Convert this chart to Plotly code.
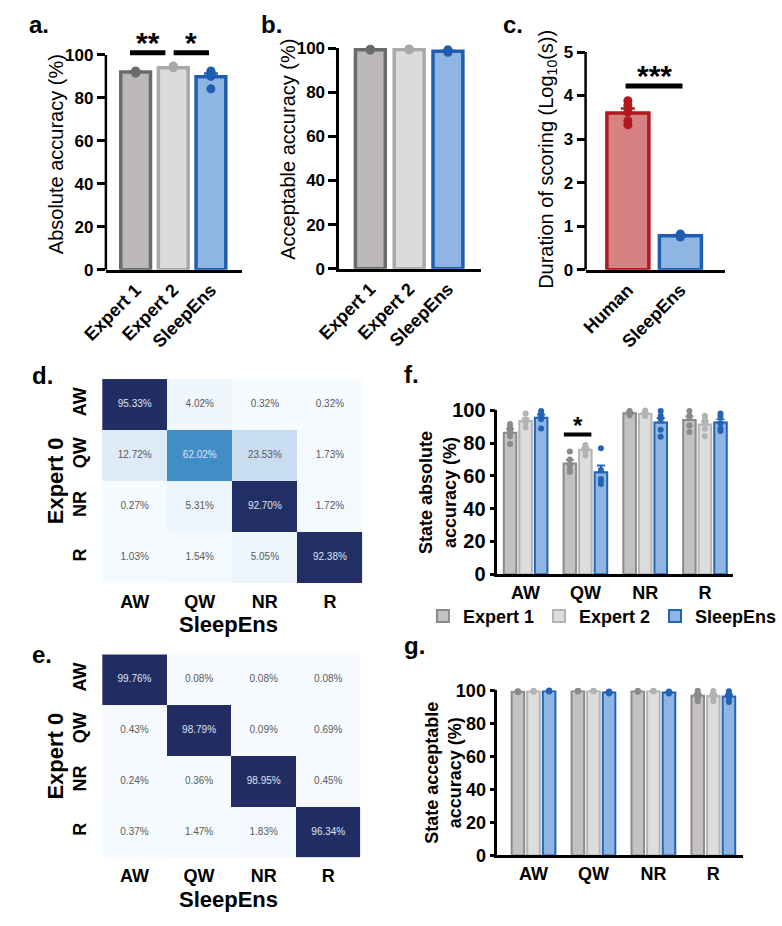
import plotly.graph_objects as go

W, H = 782, 926
FONT = "Liberation Sans, Arial, Helvetica, sans-serif"

# ---------------- data ----------------
groups_abc = ["Expert 1", "Expert 2", "SleepEns"]
abs_acc_mean = [92.0, 94.0, 89.8]
abs_acc_sem = [0.3, 0.3, 1.6]
abs_acc_dots_exp1 = [92.5, 92.0, 91.7, 92.3, 91.5]
abs_acc_dots_exp2 = [94.5, 94.8, 94.2, 94.0, 94.6]
abs_acc_dots_se = [92.5, 92.0, 91.2, 90.0, 84.2]

acc_acc_mean = [99.3, 99.4, 98.6]
acc_acc_sem = [0.1, 0.1, 0.2]
acc_acc_dots_exp1 = [99.5, 99.3, 99.2, 99.4, 99.1]
acc_acc_dots_exp2 = [99.6, 99.4, 99.5, 99.3, 99.2]
acc_acc_dots_se = [99.2, 98.9, 98.5, 98.3, 98.1]

groups_c = ["Human", "SleepEns"]
dur_mean = [3.6, 0.78]
dur_sem = [0.1, 0.02]
dur_dots_human = [3.88, 3.78, 3.62, 3.42, 3.33]
dur_dots_se = [0.82, 0.80, 0.78, 0.76, 0.75]

states = ["AW", "QW", "NR", "R"]
cm_d = [[95.33, 4.02, 0.32, 0.32],
        [12.72, 62.02, 23.53, 1.73],
        [0.27, 5.31, 92.70, 1.72],
        [1.03, 1.54, 5.05, 92.38]]
cm_e = [[99.76, 0.08, 0.08, 0.08],
        [0.43, 98.79, 0.09, 0.69],
        [0.24, 0.36, 98.95, 0.45],
        [0.37, 1.47, 1.83, 96.34]]

scorers = ["Expert 1", "Expert 2", "SleepEns"]
f_exp1_mean = [86.3, 67.5, 98.2, 94.0]
f_exp2_mean = [93.5, 76.0, 97.8, 91.3]
f_se_mean = [95.5, 62.2, 92.5, 92.5]
f_exp1_sem = [2.3, 2.2, 0.5, 2.3]
f_exp2_sem = [1.5, 1.1, 0.6, 2.2]
f_se_sem = [1.9, 4.1, 2.8, 2.1]
f_exp1_dots = [[91.7, 89.7, 87.7, 84.2, 79.4], [74.9, 70.0, 66.6, 64.0, 62.5],
               [99.6, 99.0, 98.5, 97.5, 96.8], [99.6, 96.6, 95.3, 90.7, 86.8]]
f_exp2_dots = [[98.0, 94.5, 93.5, 92.5, 89.5], [78.9, 77.9, 76.5, 74.5, 72.5],
               [99.8, 98.2, 97.8, 97.0, 96.5], [96.6, 94.7, 92.5, 88.7, 84.2]]
f_se_dots = [[99.6, 98.0, 96.6, 94.5, 88.9], [76.9, 63.6, 58.1, 57.0, 55.0],
             [99.6, 96.6, 94.7, 88.1, 83.8], [98.0, 96.5, 92.0, 88.7, 87.4]]

g_exp1_mean = [99.2, 99.6, 99.5, 96.8]
g_exp2_mean = [99.5, 99.6, 99.6, 96.7]
g_se_mean = [99.6, 98.8, 98.7, 96.3]
g_exp1_sem = [0.1, 0.1, 0.1, 1.1]
g_exp2_sem = [0.1, 0.1, 0.1, 1.1]
g_se_sem = [0.1, 0.2, 0.2, 1.2]
g_exp1_dots = [[99.5, 99.3, 99.0, 99.1, 99.2], [99.8, 99.7, 99.6, 99.5, 99.4],
               [99.7, 99.6, 99.5, 99.4, 99.3], [99.8, 98.5, 96.5, 95.5, 93.5]]
g_exp2_dots = [[99.8, 99.6, 99.5, 99.4, 99.2], [99.8, 99.7, 99.6, 99.5, 99.4],
               [99.8, 99.7, 99.6, 99.5, 99.4], [99.7, 98.3, 96.5, 95.5, 93.5]]
g_se_dots = [[99.9, 99.7, 99.6, 99.5, 99.3], [99.4, 99.0, 98.8, 98.6, 98.2],
             [99.3, 98.9, 98.7, 98.5, 98.1], [99.5, 98.5, 96.0, 94.5, 93.0]]

# ---------------- styles ----------------
FILL = {"Expert 1": "#bcb8b7", "Expert 2": "#dbdbdb", "SleepEns": "#8fb5e2", "Human": "#d68283"}
EDGE = {"Expert 1": "#6b6b6b", "Expert 2": "#a9a9a9", "SleepEns": "#1f5db0", "Human": "#b0191e"}
FILL_F = {"Expert 1": "#c4c1c0", "Expert 2": "#dddddd", "SleepEns": "#8fb5e2"}
EDGE_F = {"Expert 1": "#8a8a8a", "Expert 2": "#b3b3b3", "SleepEns": "#2463b4"}


def fx(p):
    return p / W


def fy(p):
    return 1 - p / H


fig = go.Figure()
annots = []
shapes = []


def tfont(size, bold=True, color="black"):
    return dict(family=FONT, size=size, color=color, weight="bold" if bold else "normal")


def add_bar_panel(xa, ya, names, means, sems, dots_list, width, lw, dsize):
    for i, name in enumerate(names):
        fig.add_trace(go.Bar(
            x=[i], y=[means[i]], width=width, xaxis=xa, yaxis=ya, showlegend=False,
            marker=dict(color=FILL[name], line=dict(color=EDGE[name], width=lw)),
            error_y=dict(type="data", array=[sems[i]], arrayminus=[0], symmetric=False,
                         color=EDGE[name], thickness=2.5, width=7),
        ))
        d = dots_list[i]
        fig.add_trace(go.Scatter(
            x=[i] * len(d), y=d, mode="markers", xaxis=xa, yaxis=ya, showlegend=False,
            cliponaxis=False, marker=dict(size=dsize, color=EDGE[name], line=dict(width=0)),
        ))


# panel a
add_bar_panel("x", "y", groups_abc, abs_acc_mean, abs_acc_sem,
              [abs_acc_dots_exp1, abs_acc_dots_exp2, abs_acc_dots_se], 0.79, 3.5, 9)
# panel b
add_bar_panel("x2", "y2", groups_abc, acc_acc_mean, acc_acc_sem,
              [acc_acc_dots_exp1, acc_acc_dots_exp2, acc_acc_dots_se], 0.77, 3.5, 9)
# panel c
add_bar_panel("x3", "y3", groups_c, dur_mean, dur_sem,
              [dur_dots_human, dur_dots_se], 0.8, 3.5, 9)


# significance lines
def sig(xa, ya, x0, x1, yv, stars, lw, fsize, dy):
    fig.add_trace(go.Scatter(x=[x0, x1], y=[yv, yv], mode="lines", xaxis=xa, yaxis=ya,
                             showlegend=False, line=dict(color="black", width=lw), hoverinfo="skip"))
    annots.append(dict(x=(x0 + x1) / 2, y=yv, xref=xa, yref=ya, text=stars, showarrow=False,
                       yanchor="bottom", yshift=dy, font=tfont(fsize)))


sig("x", "y", 0 - 0.15, 1 - 0.21, 101, "**", 5, 30, -8)
sig("x", "y", 1 + 0.01, 2 - 0.05, 101, "*", 5, 30, -8)
sig("x3", "y3", 0 - 0.044, 1 + 0.04, 4.22, "***", 5, 30, -8)

# heatmaps
BLUES = [[0.0, "#f7fbff"], [0.125, "#deebf7"], [0.25, "#c6dbef"], [0.375, "#9ecae1"],
         [0.5, "#6baed6"], [0.625, "#3f8dc6"], [0.75, "#2a68ad"], [0.88, "#223068"],
         [1.0, "#212d62"]]


def add_cm(xa, ya, cm):
    fig.add_trace(go.Heatmap(z=cm, x=states, y=states, xaxis=xa, yaxis=ya, colorscale=BLUES,
                             zmin=0, zmax=100, showscale=False, hoverinfo="skip"))
    xs, ys, ts, cs = [], [], [], []
    for r, row in enumerate(cm):
        for c, v in enumerate(row):
            xs.append(states[c]); ys.append(states[r]); ts.append(f"{v:.2f}%")
            cs.append("#dfe4f4" if v > 50 else "#5a5a5a")
    fig.add_trace(go.Scatter(x=xs, y=ys, text=ts, mode="text", xaxis=xa, yaxis=ya,
                             showlegend=False, hoverinfo="skip",
                             textfont=dict(family=FONT, size=10, color=cs)))


add_cm("x4", "y4", cm_d)
add_cm("x5", "y5", cm_e)

# grouped panels f and g
OFFS = [-0.26, 0.0, 0.26]
BW = 0.21


def add_group_panel(xa, ya, means, sems, dots, show_legend):
    for k, name in enumerate(scorers):
        fig.add_trace(go.Bar(
            x=list(range(len(states))), y=means[k], width=BW, offset=OFFS[k] - BW / 2,
            xaxis=xa, yaxis=ya, name=name, showlegend=show_legend, legendgroup=name,
            marker=dict(color=FILL_F[name], line=dict(color=EDGE_F[name], width=2)),
            error_y=dict(type="data", array=sems[k], arrayminus=[0] * len(states), symmetric=False,
                         color=EDGE_F[name], thickness=2, width=4),
        ))
        xs, ys = [], []
        for i, d in enumerate(dots[k]):
            xs += [i + OFFS[k]] * len(d)
            ys += d
        fig.add_trace(go.Scatter(x=xs, y=ys, mode="markers", xaxis=xa, yaxis=ya, showlegend=False,
                                 cliponaxis=False, legendgroup=name,
                                 marker=dict(size=6, color=EDGE_F[name], line=dict(width=0))))


add_group_panel("x6", "y6", [f_exp1_mean, f_exp2_mean, f_se_mean],
                [f_exp1_sem, f_exp2_sem, f_se_sem], [f_exp1_dots, f_exp2_dots, f_se_dots], True)
add_group_panel("x7", "y7", [g_exp1_mean, g_exp2_mean, g_se_mean],
                [g_exp1_sem, g_exp2_sem, g_se_sem], [g_exp1_dots, g_exp2_dots, g_se_dots], False)

sig("x6", "y6", 1 + OFFS[0] - 0.1, 1 + OFFS[1] + 0.1, 85.3, "*", 4, 24, -7)

# ---------------- axes ----------------
AX_COMMON = dict(showgrid=False, zeroline=False, linecolor="black", tickcolor="black")


def bar_x(domain, rng, anchor, labels, angle, fsize):
    return dict(domain=[fx(domain[0]), fx(domain[1])], range=rng, anchor=anchor,
                showline=True, linewidth=2.5, ticks="", tickvals=list(range(len(labels))),
                ticktext=labels, tickangle=angle, tickfont=tfont(fsize), **AX_COMMON)


def bar_y(top_px, bottom_px, rng, anchor, tickvals, showline, fsize, tl=8):
    return dict(domain=[fy(bottom_px), fy(top_px)], range=rng, anchor=anchor, showline=showline,
                linewidth=2.5, ticks="outside", ticklen=tl, tickwidth=2.5, tickvals=tickvals,
                tickfont=tfont(fsize), **AX_COMMON)


lay = {}
lay["xaxis"] = bar_x((87, 233), [-0.79, 2.815], "y", groups_abc, -45, 18)
lay["yaxis"] = bar_y(265 - 110 * 2.2, 265, [0, 110], "x", [0, 20, 40, 60, 80, 100], False, 17)
lay["xaxis2"] = bar_x((338, 490), [-0.802, 2.84], "y2", groups_abc, -45, 18)
lay["yaxis2"] = bar_y(38, 264, [0, 100], "x2", [0, 20, 40, 60, 80, 100], True, 17)
lay["xaxis3"] = bar_x((603, 753), [-0.805, 1.85], "y3", groups_c, -45, 18)
lay["yaxis3"] = bar_y(265 - 5.4 * 44.6, 265, [0, 5.4], "x3", [0, 1, 2, 3, 4, 5], False, 17)

for xa, ya, xd, yd in (("xaxis4", "yaxis4", (83, 363), (377, 586)),
                       ("xaxis5", "yaxis5", (83, 361), (659, 867))):
    lay[xa] = dict(domain=[fx(xd[0]), fx(xd[1])], anchor=ya.replace("axis", ""), type="category",
                   showline=False, ticks="", tickfont=tfont(18), ticklabelstandoff=6,
                   showgrid=False, zeroline=False)
    lay[ya] = dict(domain=[fy(yd[1]), fy(yd[0])], anchor=xa.replace("axis", ""), type="category",
                   autorange="reversed", showline=False, ticks="", tickangle=-90,
                   tickfont=tfont(18), ticklabelstandoff=12, showgrid=False, zeroline=False)

lay["xaxis6"] = bar_x((508, 762), [-0.474, 3.476], "y6", states, 0, 18)
lay["yaxis6"] = bar_y(409, 577, [0, 100], "x6", [0, 20, 40, 60, 80, 100], True, 20, tl=5)
lay["xaxis7"] = bar_x((508, 772), [-0.605, 3.49], "y7", states, 0, 18)
lay["yaxis7"] = bar_y(696, 865, [0, 100], "x7", [0, 20, 40, 60, 80, 100], True, 18, tl=5)

# y axis lines ending at top tick (panels a, c)
shapes.append(dict(type="line", xref="paper", yref="y", x0=fx(87), x1=fx(87), y0=0, y1=100,
                   line=dict(color="black", width=2.5)))
shapes.append(dict(type="line", xref="paper", yref="y3", x0=fx(603), x1=fx(603), y0=0, y1=5,
                   line=dict(color="black", width=2.5)))


# ---------------- text ----------------
def txt(x, y, s, size, bold=True, angle=0, xanchor="center", yanchor="middle"):
    annots.append(dict(x=fx(x), y=fy(y), xref="paper", yref="paper", text=s, showarrow=False,
                       textangle=angle, xanchor=xanchor, yanchor=yanchor, font=tfont(size, bold)))


txt(2, 14, "a.", 24, xanchor="left")
txt(252, 14, "b.", 24, xanchor="left")
txt(512, 14, "c.", 24, xanchor="left")
txt(5, 373, "d.", 24, xanchor="left")
txt(405, 372, "f.", 24, xanchor="left")
txt(5, 659, "e.", 24, xanchor="left")
txt(405, 650, "g.", 24, xanchor="left")

txt(33, 147, "Absolute accuracy (%)", 20, bold=False, angle=-90)
txt(282, 142, "Acceptable accuracy (%)", 20, bold=False, angle=-90)
txt(562, 152, "Duration of scoring (Log<sub>10</sub>(s))", 20, bold=False, angle=-90)

txt(33, 481, "Expert 0", 22, angle=-90)
txt(33, 763, "Expert 0", 22, angle=-90)
txt(219, 628, "SleepEns", 22)
txt(219, 910, "SleepEns", 22)

txt(444, 493, "State absolute<br>accuracy (%)", 18, angle=-90)
txt(450, 780, "State acceptable<br>accuracy (%)", 18, angle=-90)

fig.update_layout(
    width=W, height=H, autosize=False, margin=dict(l=0, r=0, t=0, b=0),
    paper_bgcolor="white", plot_bgcolor="white", barmode="overlay",
    font=dict(family=FONT, color="black"),
    annotations=annots, shapes=shapes,
    legend=dict(orientation="h", x=fx(428), y=fy(620), xanchor="left", yanchor="middle",
                font=tfont(18), itemwidth=30, bgcolor="rgba(0,0,0,0)", traceorder="normal"),
    **lay,
)

fig.write_html("out.html", config={"displayModeBar": False},
               post_script="document.body.style.margin='0px';document.body.style.overflow='hidden';")
